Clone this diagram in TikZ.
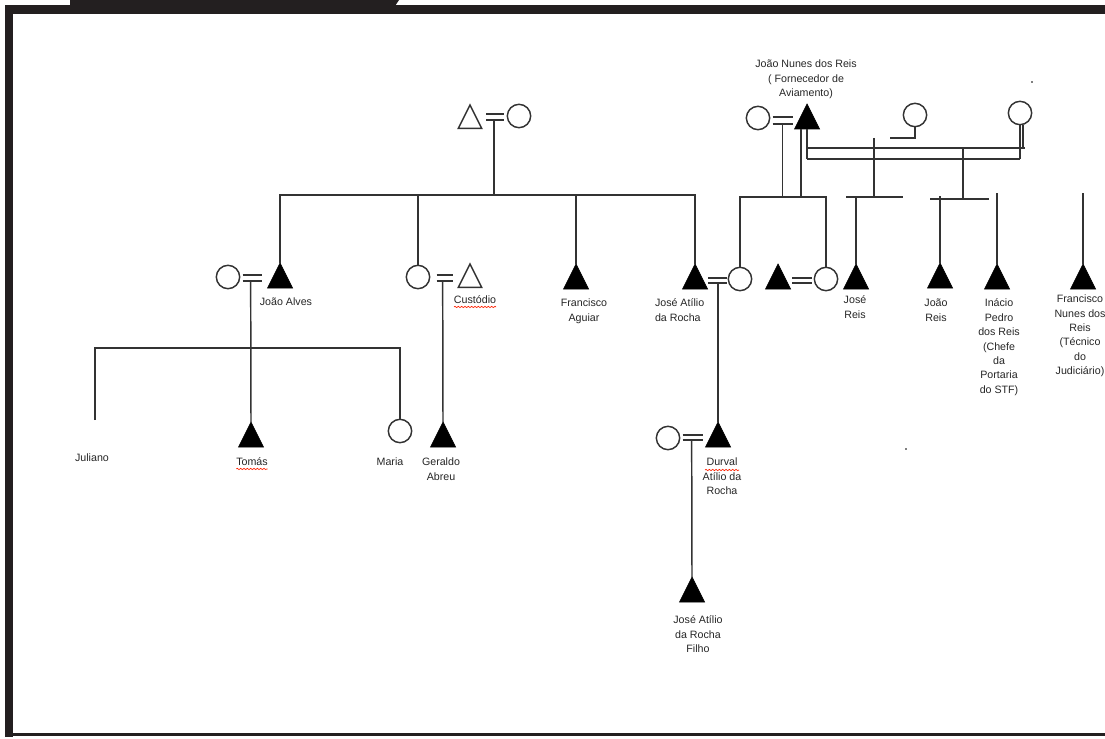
\documentclass[tikz,border=0pt]{standalone}
\usepackage{fontspec}
\setmainfont{Liberation Sans}
\usetikzlibrary{calc,shapes.geometric,decorations.pathmorphing}
\definecolor{frame}{HTML}{231F20}
\definecolor{ink}{HTML}{333333}
\begin{document}
\begin{tikzpicture}[x=0.75pt,y=-0.75pt,
  ln/.style={draw=ink, line width=1.1pt},
  mfill/.style={isosceles triangle, shape border rotate=90, isosceles triangle stretches,
    minimum width=18.75pt, minimum height=18.75pt, inner sep=0pt, outer sep=0pt,
    fill=black, draw=black, line width=0.5pt, anchor=apex},
  mopen/.style={isosceles triangle, shape border rotate=90, isosceles triangle stretches,
    minimum width=17.5pt, minimum height=17.5pt, inner sep=0pt, outer sep=0pt,
    fill=white, draw=ink, line width=1.1pt, anchor=apex},
  fem/.style={circle, minimum size=17.5pt, inner sep=0pt, outer sep=0pt,
    fill=white, draw=ink, line width=1.1pt},
  lbl/.style={font=\fontsize{8}{10.8}\selectfont, inner sep=0pt, outer sep=0pt,
    align=center, anchor=north, text=black!85},
  spell/.style={draw=red!75!orange, line width=0.5pt,
    decorate, decoration={snake, amplitude=0.5pt, segment length=2.5pt}}
]
\useasboundingbox (0,0) rectangle (1105,738);
% frame
\fill[frame] (5,5) rectangle (1105,14);
\fill[frame] (70,0) -- (399,0) -- (395,6) -- (70,6) -- cycle;
\fill[frame] (5,5) rectangle (13,737);
\fill[frame] (5,733) rectangle (1105,736);

% helper coordinates
\coordinate (bar0) at (0,195);
\coordinate (bar1) at (0,348);
\coordinate (bar2) at (0,197);
\coordinate (hA) at (0,148);
\coordinate (hB) at (0,159);

% generation 0
\node[mopen] (t0) at (470,105) {};
\node[fem] (c0) at (519,116) {};
\node[fem] (jnw) at (758,118) {};
\node[mfill] (jnunes) at (807,104) {};
\node[fem] (c2) at (915,115) {};
\node[fem] (c3) at (1020,113) {};

% generation 1
\node[fem] (jaw) at (228,277) {};
\node[mfill] (jalves) at (280,263) {};
\node[fem] (cw) at (418,277) {};
\node[mopen] (custodio) at (470,264) {};
\node[mfill] (faguiar) at (576,264) {};
\node[mfill] (jatilio) at (695,264) {};
\node[fem] (aw) at (740,279) {};
\node[mfill] (ux) at (778,264) {};
\node[fem] (uw) at (826,279) {};
\node[mfill] (jreis) at (856,264) {};
\node[mfill] (joreis) at (940,263) {};
\node[mfill] (inacio) at (997,264) {};
\node[mfill] (fnunes) at (1083,264) {};

% generation 2
\coordinate (jl) at (95,420);
\node[mfill] (tomas) at (251,422) {};
\node[fem] (maria) at (400,431) {};
\node[mfill] (geraldo) at (443,422) {};
\node[fem] (dw) at (668,438) {};
\node[mfill] (durval) at (718,422) {};

% generation 3
\node[mfill] (jfilho) at (692,577) {};

% marriages
\draw[ln] ($(t0.apex)+(16,9)$) -- ($(c0.west)+(-3,-2)$);
\draw[ln] ($(t0.apex)+(16,15)$) -- ($(c0.west)+(-3,4)$);
\coordinate (m0) at ($(t0.apex)+(24,15)$);

\draw[ln] ($(jnw.east)+(3,-1)$) -- ($(jnunes.apex)+(-14,13)$);
\draw[ln] ($(jnw.east)+(3,6)$) -- ($(jnunes.apex)+(-14,20)$);
\coordinate (mN) at ($(jnw.east)+(13,6)$);

\draw[ln] ($(jaw.east)+(3,-2)$) -- ($(jalves.apex)+(-18,12)$);
\draw[ln] ($(jaw.east)+(3,4)$) -- ($(jalves.apex)+(-18,18)$);
\coordinate (m1) at ($(jaw.east)+(11,4)$);

\draw[ln] ($(cw.east)+(7,-2)$) -- ($(custodio.apex)+(-17,11)$);
\draw[ln] ($(cw.east)+(7,4)$) -- ($(custodio.apex)+(-17,17)$);
\coordinate (m2) at ($(cw.east)+(13,4)$);

\draw[ln] ($(jatilio.apex)+(13,14)$) -- ($(aw.west)+(-1,-1)$);
\draw[ln] ($(jatilio.apex)+(13,19)$) -- ($(aw.west)+(-1,4)$);
\coordinate (m3) at ($(jatilio.apex)+(23,19)$);

\draw[ln] ($(ux.apex)+(14,14)$) -- ($(uw.west)+(-2,-1)$);
\draw[ln] ($(ux.apex)+(14,19)$) -- ($(uw.west)+(-2,4)$);

\draw[ln] ($(dw.east)+(3,-3)$) -- ($(durval.apex)+(-15,13)$);
\draw[ln] ($(dw.east)+(3,2)$) -- ($(durval.apex)+(-15,18)$);
\coordinate (m4) at ($(dw.east)+(12,2)$);

% descent lines, left family
\draw[ln] (m0) -- (m0|-bar0);
\draw[ln] (jalves.apex) -- (jalves.apex|-bar0) -- (jatilio.apex|-bar0) -- (jatilio.apex);
\draw[ln] (cw.north) -- (cw.north|-bar0);
\draw[ln] (faguiar.apex) -- (faguiar.apex|-bar0);
\draw[ln] (m1) -- (tomas.apex);
\draw[ln] (jl) -- (jl|-bar1) -- (maria.north|-bar1) -- (maria.north);
\draw[ln] (m2) -- (geraldo.apex);
\draw[ln] (m3) -- (durval.apex);
\draw[ln] (m4) -- (jfilho.apex);

% descent lines, right family
\draw[ln] (aw.north) -- (aw.north|-bar2) -- (uw.north|-bar2) -- (uw.north);
\draw[ln] (mN) -- (mN|-bar2);
\draw[ln] ($(jnunes.apex)+(-6,25)$) -- ($(jnunes.apex|-bar2)+(-6,0)$);
\draw[ln] ($(jnunes.apex)+(0,25)$) -- (jnunes.apex|-hB);
\draw[ln] (jnunes.apex|-hA) -- ($(c3.south|-hA)+(5,0)$);
\draw[ln] (jnunes.apex|-hB) -- (c3.south|-hB);
\draw[ln] (c3.south) -- (c3.south|-hB);
\draw[ln] ($(c3.south)+(3,0)$) -- ($(c3.south|-hA)+(3,0)$);
\coordinate (k0) at (890,138);
\draw[ln] (c2.south) |- (k0);
\coordinate (k1) at (874,138);
\draw[ln] (k1) -- (k1|-bar2);
\draw[ln] ($(k1|-bar2)+(-28,0)$) -- ($(k1|-bar2)+(29,0)$);
\draw[ln] (jreis.apex) -- (jreis.apex|-bar2);
\coordinate (k2) at (963,199);
\draw[ln] (k2|-hA) -- (k2);
\draw[ln] ($(k2)+(-33,0)$) -- ($(k2)+(26,0)$);
\draw[ln] (joreis.apex) -- ($(joreis.apex|-k2)+(0,-3)$);
\coordinate (k3) at (997,193);
\draw[ln] (inacio.apex) -- (k3);
\coordinate (k4) at (1083,193);
\draw[ln] (fnunes.apex) -- (k4);

% labels
\node[lbl] (topL) at (806,60) {João Nunes dos Reis\\( Fornecedor de\\Aviamento)};
\node[lbl] (jalvesL) at (286,298) {João Alves};
\node[lbl] (custodioL) at (475,296) {Custódio};
\node[lbl] (faguiarL) at (584,299) {Francisco\\Aguiar};
\node[lbl, anchor=north west, align=left] (jatilioL) at (655,299) {José Atílio\\da Rocha};
\node[lbl] (jreisL) at (855,296) {José\\Reis};
\node[lbl] (joreisL) at (936,299) {João\\Reis};
\node[lbl] (inacioL) at (999,299) {Inácio\\Pedro\\dos Reis\\(Chefe\\da\\Portaria\\do STF)};
\node[lbl] (fnunesL) at (1080,295) {Francisco\\Nunes dos\\Reis\\(Técnico\\do\\Judiciário)};
\node[lbl] (julianoL) at (92,454) {Juliano};
\node[lbl] (tomasL) at (252,458) {Tomás};
\node[lbl] (mariaL) at (390,458) {Maria};
\node[lbl] (geraldoL) at (441,458) {Geraldo\\Abreu};
\node[lbl] (durvalL) at (722,458) {Durval\\Atílio da\\Rocha};
\node[lbl] (jfilhoL) at (698,616) {José Atílio\\da Rocha\\Filho};

% spell-check marks
\draw[spell] ($(custodioL.south west)+(0,3)$) -- ($(custodioL.south east)+(0,3)$);
\draw[spell] ($(tomasL.south west)+(0,3)$) -- ($(tomasL.south east)+(0,3)$);
\draw[spell] ($(durvalL.north)+(-17,12)$) -- ($(durvalL.north)+(17,12)$);

% stray marks
\fill[black!50] (905,448) rectangle (907,450);
\fill[black!50] (1031,81) rectangle (1033,83);
\end{tikzpicture}
\end{document}
